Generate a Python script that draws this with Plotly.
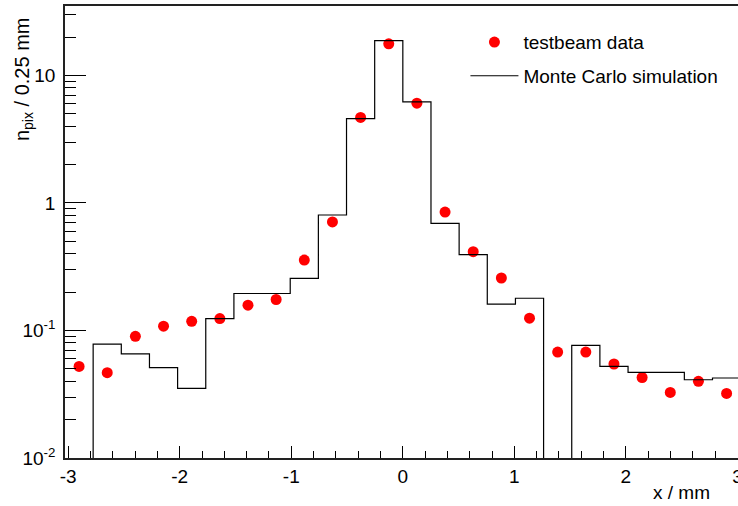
import plotly.graph_objects as go

# ---- data ----
bin_width = 0.2524          # mm (as drawn)
n_bins = 24
first_edge = -12 * bin_width

# testbeam data, one value per bin
data_vals = [0.0523, 0.0467, 0.090, 0.108, 0.118, 0.124, 0.158, 0.175,
             0.357, 0.71, 4.69, 17.7, 6.07, 0.849, 0.415, 0.258,
             0.125, 0.0678, 0.0678, 0.0546, 0.0428, 0.0327, 0.0399, 0.0321]

# Monte Carlo simulation, one value per bin (0 = empty bin)
mc_vals = [0.0, 0.0783, 0.0655, 0.0511, 0.0351, 0.124, 0.195, 0.195,
           0.256, 0.805, 4.59, 18.8, 6.2, 0.693, 0.393, 0.161,
           0.179, 0.0, 0.0764, 0.0523, 0.0469, 0.0469, 0.0411, 0.0424]

x_tick_vals = [-3, -2, -1, 0, 1, 2, 3]
x_tick_text = ["-3", "-2", "-1", "0", "1", "2", "3"]
y_tick_vals = [0.01, 0.1, 1, 10]
y_tick_text = ["10<sup>-2</sup>", "10<sup>-1</sup>", "1", "10"]

# ---- derived ----
edges = [first_edge + i * bin_width for i in range(n_bins + 1)]
centers = [first_edge + (i + 0.5) * bin_width for i in range(n_bins)]
floor = 1e-3  # empty bins drawn below the axis (as ROOT does on log scale)
mc_plot = [v if v > 0 else floor for v in mc_vals]
mc_y = mc_plot + [mc_plot[-1]]

minor_y = [k * 10 ** d for d in range(-2, 2) for k in range(2, 10)]

FONT = "Liberation Sans, Arial, Helvetica, sans-serif"

fig = go.Figure()
fig.add_trace(go.Scatter(
    x=centers, y=data_vals, mode="markers", name="testbeam data",
    marker=dict(color="#ff0000", size=11, line=dict(width=0)),
    legendgroup="a",
))
fig.add_trace(go.Scatter(
    x=edges, y=mc_y, mode="lines", line_shape="hv", name="Monte Carlo simulation",
    line=dict(color="black", width=1.2),
    legendgroup="b",
))

fig.update_layout(
    width=738, height=506,
    margin=dict(l=65, r=0, t=6, b=48, autoexpand=False),
    paper_bgcolor="white", plot_bgcolor="white",
    font=dict(family=FONT, size=19, color="black"),
    showlegend=True,
    legend=dict(x=0.595, y=0.962, xanchor="left", yanchor="top",
                bgcolor="rgba(0,0,0,0)", font=dict(size=19),
                tracegroupgap=6, itemwidth=48),
    xaxis=dict(
        range=[first_edge, 3.005], automargin=False,
        tickmode="array", tickvals=x_tick_vals, ticktext=x_tick_text,
        ticks="inside", ticklen=12, tickcolor="black", tickwidth=1,
        minor=dict(dtick=0.2, tick0=0, ticks="inside", ticklen=7,
                   tickcolor="black", tickwidth=1, showgrid=False),
        showgrid=False, zeroline=False,
        showline=True, linecolor="#222", linewidth=1.5, mirror=True,
        tickfont=dict(size=19), ticklabeloverflow="allow",
    ),
    yaxis=dict(
        type="log", range=[-2, 1.545], automargin=False,
        tickmode="array", tickvals=y_tick_vals, ticktext=y_tick_text,
        ticks="inside", ticklen=21, tickcolor="black", tickwidth=1,
        minor=dict(tickmode="array", tickvals=minor_y, ticks="inside",
                   ticklen=11, tickcolor="black", tickwidth=1, showgrid=False),
        showgrid=False, zeroline=False,
        showline=True, linecolor="#222", linewidth=1.5, mirror=False,
        tickfont=dict(size=19), ticklabelstandoff=4,
    ),
    annotations=[
        dict(text="x / mm", xref="paper", yref="paper", x=0.961, y=-0.077,
             xanchor="right", yanchor="middle", showarrow=False,
             font=dict(size=19)),
        dict(text="n<sub>pix</sub> / 0.25 mm", xref="paper", yref="paper",
             x=-0.0624, y=0.98, xanchor="center", yanchor="top",
             textangle=-90, showarrow=False, font=dict(size=20)),
    ],
)

fig.write_html("out.html")
